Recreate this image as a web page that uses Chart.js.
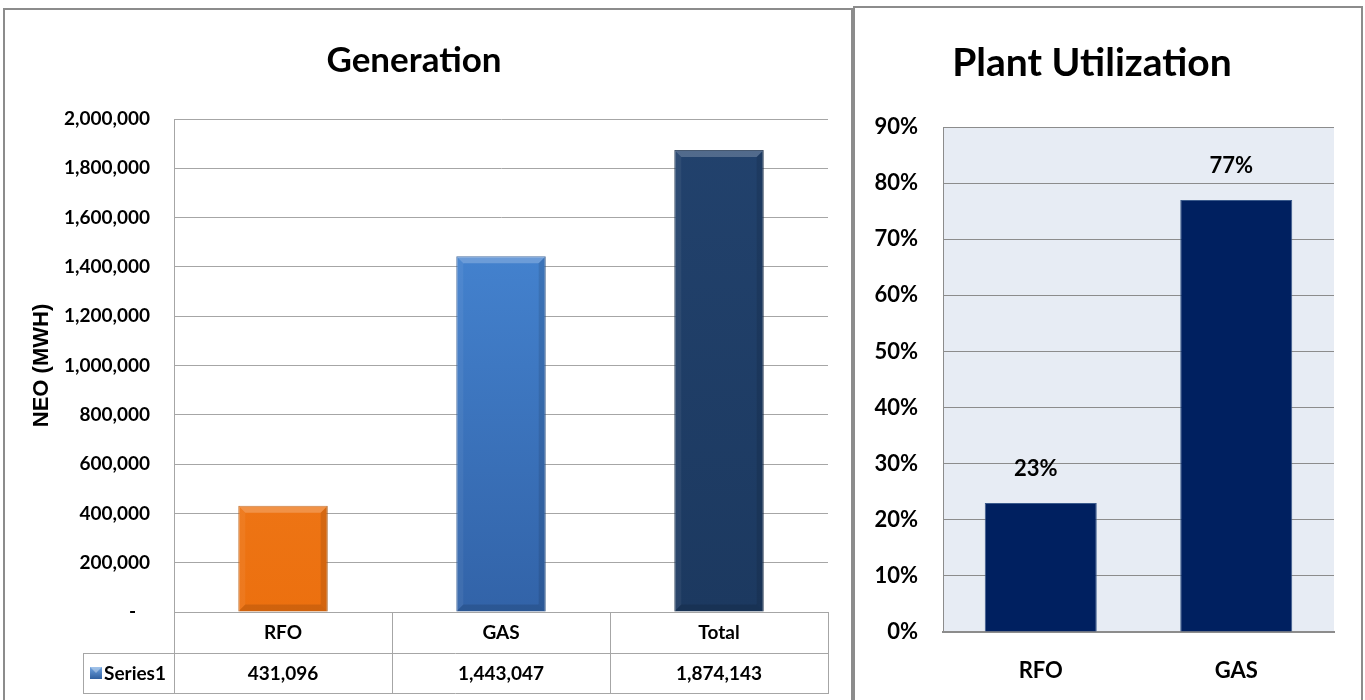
<!DOCTYPE html>
<html>
<head>
<meta charset="utf-8">
<script src="https://cdn.jsdelivr.net/npm/chart.js@4.4.1/dist/chart.umd.min.js"></script>
<style>
html,body{margin:0;padding:0;background:#fff;width:1365px;height:700px;overflow:hidden;}
.panel{position:absolute;box-sizing:border-box;border:2px solid #8c8c8c;border-bottom:none;}
#panelL{left:3px;top:8px;width:850px;height:700px;}
#panelR{left:853px;top:6px;width:510px;height:700px;}
canvas{position:absolute;top:0;}
#genChart{left:0;}
#utilChart{left:850px;}
</style>
</head>
<body>
<div class="panel" id="panelL"></div>
<div class="panel" id="panelR"></div>
<canvas id="genChart" width="850" height="700" style="width:850px;height:700px"></canvas>
<canvas id="utilChart" width="515" height="700" style="width:515px;height:700px"></canvas>
<script>
// ---------- data ----------
const genTitle = 'Generation';
const genAxisTitle = 'NEO (MWH)';
const genCategories = ['RFO', 'GAS', 'Total'];
const genValues = [431096, 1443047, 1874143];
const genSeriesName = 'Series1';
const genAxisMin = 0;
const genAxisMax = 2000000;
const genAxisStep = 200000;

const utilTitle = 'Plant Utilization';
const utilCategories = ['RFO', 'GAS'];
const utilValues = [23, 77];
const utilAxisMin = 0;
const utilAxisMax = 90;
const utilAxisStep = 10;

// ---------- styles ----------
const genPalettes = [
  {top: '#F38326', bottom: '#EC700F', border: '#B8590B'},
  {top: '#4A8DDC', bottom: '#3263A8', border: '#2A5590'},
  {top: '#22426D', bottom: '#1C3960', border: '#132A48'}
];
const utilBarColor = '#002060';
const FONT = 'Lato, "Open Sans", sans-serif';

function barGradient(context) {
  const chart = context.chart;
  const pal = genPalettes[context.dataIndex];
  const area = chart.chartArea;
  if (!area) return pal.bottom;
  const g = chart.ctx.createLinearGradient(0, area.top, 0, area.bottom);
  g.addColorStop(0, pal.top);
  g.addColorStop(1, pal.bottom);
  return g;
}

const bevelPlugin = {
  id: 'bevel',
  afterDatasetsDraw(chart) {
    const ctx = chart.ctx;
    const meta = chart.getDatasetMeta(0);
    meta.data.forEach((bar) => {
      const p = bar.getProps(['x', 'y', 'base', 'width'], true);
      const l = p.x - p.width / 2, r = p.x + p.width / 2, t = p.y, b = p.base;
      const bw = 7;
      ctx.save();
      const poly = (pts, color) => {
        ctx.beginPath();
        ctx.moveTo(pts[0][0], pts[0][1]);
        for (let k = 1; k < pts.length; k++) ctx.lineTo(pts[k][0], pts[k][1]);
        ctx.closePath();
        ctx.fillStyle = color;
        ctx.fill();
      };
      poly([[l, t], [r, t], [r - bw, t + bw], [l + bw, t + bw]], 'rgba(255,255,255,0.22)');
      poly([[l, t], [l + bw, t + bw], [l + bw, b - bw], [l, b]], 'rgba(255,255,255,0.06)');
      poly([[r, t], [r - bw, t + bw], [r - bw, b - bw], [r, b]], 'rgba(0,0,0,0.10)');
      poly([[l, b], [l + bw, b - bw], [r - bw, b - bw], [r, b]], 'rgba(0,0,0,0.12)');
      ctx.restore();
    });
  }
};

const tablePlugin = {
  id: 'dataTable',
  afterDraw(chart) {
    const ctx = chart.ctx;
    const {left, right, bottom} = chart.chartArea;
    const n = genCategories.length;
    const cw = (right - left) / n;
    const row1 = bottom + 41;
    const row2 = bottom + 81;
    const legendLeft = 83;
    const L = (x1, y1, x2, y2) => {
      ctx.beginPath();
      ctx.moveTo(x1, y1);
      ctx.lineTo(x2, y2);
      ctx.stroke();
    };
    ctx.save();
    ctx.strokeStyle = '#a6a6a6';
    ctx.lineWidth = 1;
    L(left, bottom + 0.5, right, bottom + 0.5);
    L(legendLeft, row1 + 0.5, right, row1 + 0.5);
    L(legendLeft, row2 + 0.5, right, row2 + 0.5);
    L(Math.round(left) + 0.5, bottom, Math.round(left) + 0.5, row2 + 1);
    L(legendLeft + 0.5, row1, legendLeft + 0.5, row2 + 1);
    for (let i = 1; i <= n; i++) {
      const xk = Math.round(left + i * cw) + 0.5;
      L(xk, bottom, xk, row2 + 1);
    }
    // values
    ctx.fillStyle = '#000';
    ctx.font = 'bold 19px ' + FONT;
    ctx.textAlign = 'center';
    ctx.textBaseline = 'middle';
    genValues.forEach((v, i) => {
      const cx = chart.scales.x.getPixelForValue(i);
      ctx.fillText(v.toLocaleString('en-US'), cx, (row1 + row2) / 2 + 1);
    });
    // legend key
    const kx = 90, ky = 667, ks = 12;
    const g = ctx.createLinearGradient(0, ky, 0, ky + ks);
    g.addColorStop(0, '#6FA3E0');
    g.addColorStop(1, '#2F5F9F');
    ctx.fillStyle = g;
    ctx.fillRect(kx, ky, ks, ks);
    ctx.fillStyle = 'rgba(255,255,255,0.35)';
    ctx.beginPath();
    ctx.moveTo(kx, ky); ctx.lineTo(kx + ks, ky); ctx.lineTo(kx + ks / 2, ky + ks / 2); ctx.closePath();
    ctx.fill();
    ctx.fillStyle = '#000';
    ctx.textAlign = 'left';
    ctx.fillText(genSeriesName, kx + ks + 2, (row1 + row2) / 2 + 1);
    ctx.restore();
  }
};

const plotBgPlugin = {
  id: 'plotBg',
  beforeDraw(chart) {
    const {left, top, right, bottom} = chart.chartArea;
    const ctx = chart.ctx;
    ctx.save();
    ctx.fillStyle = '#E7ECF4';
    ctx.fillRect(left, top, right - left, bottom - top);
    ctx.restore();
  }
};

const utilLabelPlugin = {
  id: 'utilLabels',
  afterDatasetsDraw(chart) {
    const ctx = chart.ctx;
    const meta = chart.getDatasetMeta(0);
    ctx.save();
    ctx.fillStyle = '#000';
    ctx.font = 'bold 22px ' + FONT;
    ctx.textAlign = 'center';
    ctx.textBaseline = 'middle';
    meta.data.forEach((bar, i) => {
      const p = bar.getProps(['x', 'y'], true);
      ctx.fillText(utilValues[i] + '%', p.x - 5, p.y - 34);
    });
    ctx.restore();
  }
};

function build() {
  new Chart(document.getElementById('genChart'), {
    type: 'bar',
    data: {
      labels: genCategories,
      datasets: [{
        label: genSeriesName,
        data: genValues,
        backgroundColor: barGradient,
        borderColor: genPalettes.map(p => p.border),
        borderWidth: 1,
        barPercentage: 0.41,
        categoryPercentage: 1
      }]
    },
    options: {
      responsive: false,
      animation: false,
      devicePixelRatio: 1,
      layout: {padding: {top: 0, left: 0, right: 22, bottom: 7}},
      plugins: {
        legend: {display: false},
        tooltip: {enabled: false},
        title: {
          display: true,
          text: genTitle,
          color: '#000',
          font: {family: FONT, size: 35, weight: 'bold'},
          padding: {top: 40, bottom: 37}
        }
      },
      scales: {
        x: {
          grid: {display: false, drawTicks: false},
          border: {display: false},
          ticks: {padding: 9, color: '#000', font: {family: FONT, size: 19, weight: 'bold'}},
          afterFit(s) { s.height = 81; }
        },
        y: {
          min: genAxisMin,
          max: genAxisMax,
          grid: {color: '#a6a6a6', drawTicks: false},
          border: {display: true, color: '#a6a6a6'},
          ticks: {
            stepSize: genAxisStep,
            padding: 24,
            color: '#000',
            font: {family: FONT, size: 19, weight: 'bold'},
            callback: v => v === 0 ? '-   ' : v.toLocaleString('en-US')
          },
          title: {
            display: true,
            text: genAxisTitle,
            color: '#000',
            font: {family: '"Liberation Sans", Arial, sans-serif', size: 22, weight: 'bold'},
            padding: {top: 28.8, bottom: 0}
          },
          afterFit(s) { s.width = 174; }
        }
      }
    },
    plugins: [bevelPlugin, tablePlugin]
  });

  new Chart(document.getElementById('utilChart'), {
    type: 'bar',
    data: {
      labels: utilCategories,
      datasets: [{
        label: utilTitle,
        data: utilValues,
        backgroundColor: utilBarColor,
        borderColor: '#3A5A8C',
        borderWidth: 1,
        barPercentage: 0.573,
        categoryPercentage: 1
      }]
    },
    options: {
      responsive: false,
      animation: false,
      devicePixelRatio: 1,
      layout: {padding: {top: 0, left: 0, right: 31, bottom: 0}},
      plugins: {
        legend: {display: false},
        tooltip: {enabled: false},
        title: {
          display: true,
          text: utilTitle,
          color: '#000',
          font: {family: FONT, size: 39, weight: 'bold'},
          padding: {top: 39.6, bottom: 40.6}
        }
      },
      scales: {
        x: {
          grid: {display: false, drawTicks: false},
          border: {display: true, color: '#8c8c8c', width: 2},
          ticks: {padding: 26, color: '#000', font: {family: FONT, size: 22, weight: 'bold'}},
          afterFit(s) { s.height = 68; }
        },
        y: {
          min: utilAxisMin,
          max: utilAxisMax,
          grid: {color: '#8c8c8c', drawTicks: false},
          border: {display: true, color: '#8c8c8c'},
          ticks: {
            stepSize: utilAxisStep,
            padding: 25,
            color: '#000',
            font: {family: FONT, size: 22, weight: 'bold'},
            callback: v => v + '%'
          },
          afterFit(s) { s.width = 93; }
        }
      }
    },
    plugins: [plotBgPlugin, utilLabelPlugin]
  });
}

if (document.fonts && document.fonts.load) {
  Promise.all([
    document.fonts.load('bold 33px Lato'),
    document.fonts.load('bold 18px Lato'),
    document.fonts.load('bold 16px "Liberation Sans"')
  ]).then(build, build);
} else {
  build();
}
</script>
</body>
</html>
